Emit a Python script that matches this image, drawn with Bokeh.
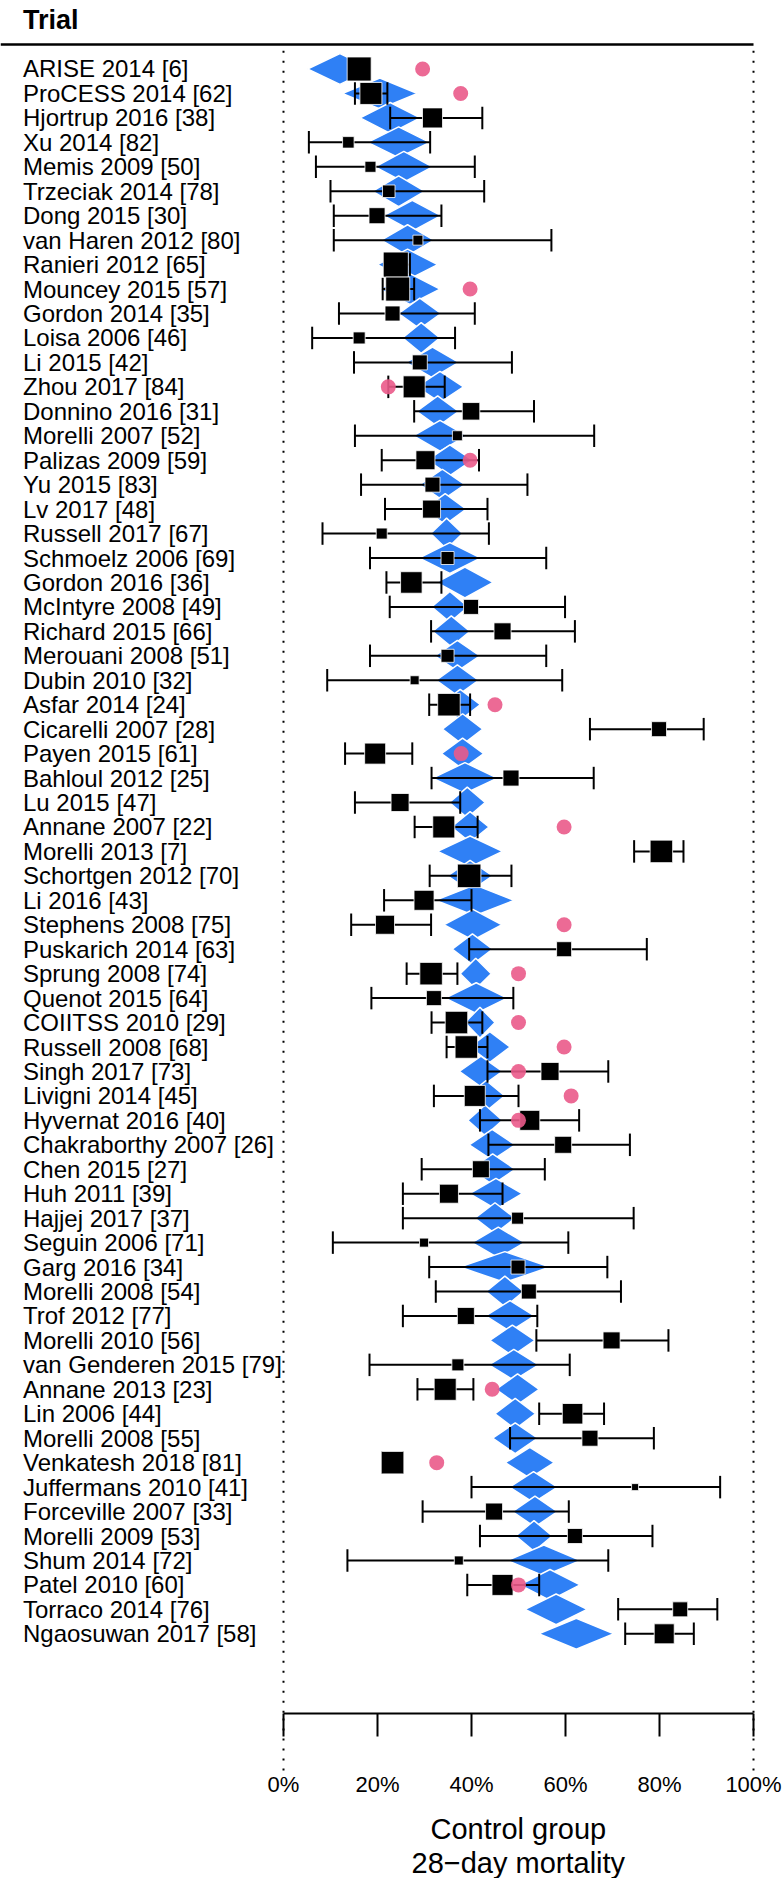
from bokeh.plotting import figure
from bokeh.models import Range1d, FixedTicker, PrintfTickFormatter, Title
from bokeh.embed import file_html
from bokeh.resources import INLINE
from bokeh.core.properties import value

trials = [
    "ARISE 2014 [6]", "ProCESS 2014 [62]", "Hjortrup 2016 [38]", "Xu 2014 [82]",
    "Memis 2009 [50]", "Trzeciak 2014 [78]", "Dong 2015 [30]", "van Haren 2012 [80]",
    "Ranieri 2012 [65]", "Mouncey 2015 [57]", "Gordon 2014 [35]", "Loisa 2006 [46]",
    "Li 2015 [42]", "Zhou 2017 [84]", "Donnino 2016 [31]", "Morelli 2007 [52]",
    "Palizas 2009 [59]", "Yu 2015 [83]", "Lv 2017 [48]", "Russell 2017 [67]",
    "Schmoelz 2006 [69]", "Gordon 2016 [36]", "McIntyre 2008 [49]", "Richard 2015 [66]",
    "Merouani 2008 [51]", "Dubin 2010 [32]", "Asfar 2014 [24]", "Cicarelli 2007 [28]",
    "Payen 2015 [61]", "Bahloul 2012 [25]", "Lu 2015 [47]", "Annane 2007 [22]",
    "Morelli 2013 [7]", "Schortgen 2012 [70]", "Li 2016 [43]", "Stephens 2008 [75]",
    "Puskarich 2014 [63]", "Sprung 2008 [74]", "Quenot 2015 [64]", "COIITSS 2010 [29]",
    "Russell 2008 [68]", "Singh 2017 [73]", "Livigni 2014 [45]", "Hyvernat 2016 [40]",
    "Chakraborthy 2007 [26]", "Chen 2015 [27]", "Huh 2011 [39]", "Hajjej 2017 [37]",
    "Seguin 2006 [71]", "Garg 2016 [34]", "Morelli 2008 [54]", "Trof 2012 [77]",
    "Morelli 2010 [56]", "van Genderen 2015 [79]", "Annane 2013 [23]", "Lin 2006 [44]",
    "Morelli 2008 [55]", "Venkatesh 2018 [81]", "Juffermans 2010 [41]", "Forceville 2007 [33]",
    "Morelli 2009 [53]", "Shum 2014 [72]", "Patel 2010 [60]", "Torraco 2014 [76]",
    "Ngaosuwan 2017 [58]",
]

# blue diamonds: centre and half-width (percent)
diamond_mid = [12.0, 20.5, 22.7, 24.5, 25.6, 24.5, 27.4, 26.4, 26.4, 26.9,
               29.0, 29.3, 31.7, 33.3, 32.8, 33.3, 35.4, 33.8, 34.4, 34.7,
               35.4, 38.6, 35.4, 35.7, 37.0, 37.0, 37.6, 38.1, 38.1, 38.6,
               39.1, 39.7, 39.7, 39.7, 40.7, 40.3, 40.2, 40.9, 41.0, 41.8,
               43.9, 42.0, 43.1, 42.9, 44.4, 44.5, 45.2, 45.0, 45.7, 47.1,
               47.1, 48.2, 48.7, 49.0, 49.8, 49.3, 49.3, 52.4, 53.2, 53.5,
               53.3, 55.4, 56.7, 58.0, 62.3]
diamond_half = [6.9, 8.0, 6.4, 6.6, 6.1, 5.6, 6.1, 5.6, 6.4, 6.4,
                4.5, 4.0, 5.6, 5.0, 4.5, 5.7, 4.8, 4.8, 4.5, 3.4,
                6.6, 6.0, 3.9, 4.0, 4.8, 4.5, 4.3, 4.3, 4.5, 6.9,
                3.8, 4.0, 6.9, 4.8, 8.4, 6.2, 4.3, 3.3, 6.6, 3.2,
                4.3, 4.6, 4.0, 3.7, 4.9, 4.8, 5.6, 4.3, 5.6, 9.6,
                4.0, 5.2, 4.8, 5.3, 4.6, 4.3, 4.8, 5.2, 5.1, 4.8,
                3.9, 7.8, 6.4, 6.6, 8.0]

# observed mortality (percent), square size (px), confidence interval
estimate = [16.1, 18.6, 31.7, 13.8, 18.5, 22.4, 19.9, 28.6, 23.9, 24.3,
            23.2, 16.1, 29.0, 27.8, 39.9, 37.0, 30.2, 31.7, 31.5, 20.9,
            34.9, 27.2, 39.9, 46.6, 34.9, 27.9, 35.2, 79.9, 19.5, 48.4,
            24.8, 34.1, 80.4, 39.5, 29.9, 21.6, 59.7, 31.4, 32.0, 36.8,
            38.9, 56.7, 40.7, 52.4, 59.5, 42.0, 35.2, 49.8, 29.9, 49.9,
            52.2, 38.8, 69.8, 37.1, 34.4, 61.5, 65.2, 23.2, 74.8, 44.8,
            62.0, 37.3, 46.6, 84.4, 81.0]
square_px = [24, 22, 20, 11.5, 11, 12.5, 16, 10, 25, 24,
             15, 12, 15, 22, 17.5, 10, 19, 15, 18, 11,
             13, 21.5, 15, 17, 13, 9, 22.5, 15, 21, 16,
             18, 22, 22.5, 23.5, 20, 19, 15, 22.5, 15, 22.5,
             22.5, 18, 21, 20, 17, 17, 19, 12, 9, 14,
             15, 17, 17, 12, 22, 20.5, 16, 22.5, 7, 17,
             15, 9, 21, 15, 20]
ci_low = [14.5, 15.2, 22.7, 5.4, 6.9, 10.0, 10.7, 10.7, 21.4, 21.1,
          11.8, 6.1, 15.0, 22.3, 27.8, 15.2, 20.9, 16.5, 21.6, 8.3,
          18.4, 21.9, 22.6, 31.4, 18.4, 9.3, 31.0, 65.2, 13.1, 31.5,
          15.2, 27.9, 74.6, 31.1, 21.4, 14.4, 39.5, 26.2, 18.7, 31.5,
          34.7, 43.4, 32.0, 41.8, 43.6, 29.4, 25.4, 25.4, 10.5, 31.0,
          32.4, 25.4, 53.8, 18.3, 28.5, 54.4, 48.2, 21.0, 40.0, 29.6,
          41.8, 13.6, 39.1, 71.2, 72.7]
ci_high = [17.6, 22.1, 42.3, 31.2, 40.7, 42.7, 33.6, 57.0, 26.9, 27.8,
           40.7, 36.5, 48.6, 34.3, 53.3, 66.1, 41.6, 51.9, 43.4, 43.7,
           55.9, 33.6, 59.9, 62.0, 55.9, 59.3, 39.7, 89.4, 27.4, 66.0,
           37.6, 41.3, 85.1, 48.5, 40.0, 31.4, 77.3, 37.0, 48.9, 42.3,
           43.4, 69.1, 50.0, 62.9, 73.7, 55.6, 46.6, 74.5, 60.6, 68.9,
           71.8, 54.0, 81.9, 60.9, 40.4, 68.2, 78.8, 25.4, 92.9, 60.7,
           78.5, 69.1, 54.4, 92.3, 87.3]

# pink dots (percent), None where absent
pink = [29.6, 37.7, None, None, None, None, None, None, None, 39.7,
        None, None, None, 22.3, None, None, 39.7, None, None, None,
        None, None, None, None, None, None, 45.0, None, 37.8, None,
        None, 59.7, None, None, None, 59.7, None, 50.0, None, 50.0,
        59.7, 50.0, 61.2, 50.0, None, None, None, None, None, None,
        None, None, None, None, 44.4, None, None, 32.6, None, None,
        None, None, 50.0, None, None]

ticks = [0, 20, 40, 60, 80, 100]
ref_lines = [0, 100]
axis_title = ["Control group", "28\u2212day mortality"]

FONT = "Liberation Sans"
BLUE = "#2F80F5"
PINK = "#EA5A8A"

n = len(trials)
rows = list(range(1, n + 1))

X0, X1 = -60.21, 106.38
Y_BOTTOM, Y_TOP = 68.259, -1.8016
LABEL_X = -55.43
p = figure(frame_width=783, frame_height=1713,
           x_range=Range1d(X0, X1), y_range=Range1d(Y_BOTTOM, Y_TOP),
           output_backend="svg", toolbar_location=None, min_border=0,
           y_axis_location=None, outline_line_color=None,
           background_fill_color="white", border_fill_color="white")
for g in p.grid:
    g.visible = False

# header
p.text(x=[LABEL_X], y=[-1.02], text=["Trial"], text_font=value(FONT),
       text_font_size=value("27px"), text_font_style="bold",
       text_baseline="middle", text_align="left", text_color="black")
p.segment(x0=[X0], x1=[100], y0=[0], y1=[0], line_color="black", line_width=2.5)

# dotted reference lines inside the plot
p.segment(x0=ref_lines, x1=ref_lines, y0=[0.25] * 2, y1=[Y_BOTTOM] * 2,
          line_color="black", line_width=2, line_dash="2 8")

# diamonds
h = 0.63
dxs = [[c - w, c, c + w, c] for c, w in zip(diamond_mid, diamond_half)]
dys = [[r, r - h, r, r + h] for r in rows]
p.patches(dxs, dys, fill_color=BLUE, line_color="white", line_width=1.5)

# whiskers
p.segment(x0=ci_low, x1=ci_high, y0=rows, y1=rows, line_color="black", line_width=2)
cap = 0.46
p.segment(x0=ci_low + ci_high, x1=ci_low + ci_high,
          y0=[r - cap for r in rows] * 2, y1=[r + cap for r in rows] * 2,
          line_color="black", line_width=2)

# squares
p.scatter(x=estimate, y=rows, size=square_px, marker="square",
          fill_color="black", line_color="white", line_width=0.8)

# pink dots
px = [v for v in pink if v is not None]
py = [r for r, v in zip(rows, pink) if v is not None]
p.scatter(x=px, y=py, size=15, marker="circle", fill_color=PINK, fill_alpha=0.9,
          line_color=None)

# trial labels
p.text(x=[LABEL_X] * n, y=rows, text=trials, text_font=value(FONT),
       text_font_size=value("24px"), text_baseline="middle", text_align="left",
       text_color="black")

# x axis (minor ticks at 0 and 100 continue the dotted lines below the axis)
ax = p.xaxis[0]
ax.ticker = FixedTicker(ticks=ticks, minor_ticks=ref_lines)
ax.formatter = PrintfTickFormatter(format="%d%%")
ax.bounds = (0, 100)
ax.major_tick_out = 23
ax.major_tick_in = 0
ax.minor_tick_out = 57
ax.minor_tick_in = 0
ax.minor_tick_line_dash = "2 8"
ax.minor_tick_line_width = 2
ax.minor_tick_line_color = "black"
ax.axis_line_width = 2
ax.major_tick_line_width = 2
ax.axis_line_color = "black"
ax.major_tick_line_color = "black"
ax.major_label_standoff = 1
ax.major_label_text_font = FONT
ax.major_label_text_font_size = "22px"
ax.major_label_text_color = "black"
# small invisible spacer between tick labels and the axis title
ax.axis_label = " "
ax.axis_label_standoff = 7
ax.axis_label_text_font_size = "1px"

t1 = Title(text=axis_title[0], align="left", offset=430, text_font=FONT,
           text_font_size="29px", text_font_style="normal", text_color="black", standoff=0)
t2 = Title(text=axis_title[1], align="left", offset=411, text_font=FONT,
           text_font_size="29px", text_font_style="normal", text_color="black", standoff=0)
p.add_layout(t1, "below")
p.add_layout(t2, "below")

open("out.html", "w").write(file_html(p, INLINE))
